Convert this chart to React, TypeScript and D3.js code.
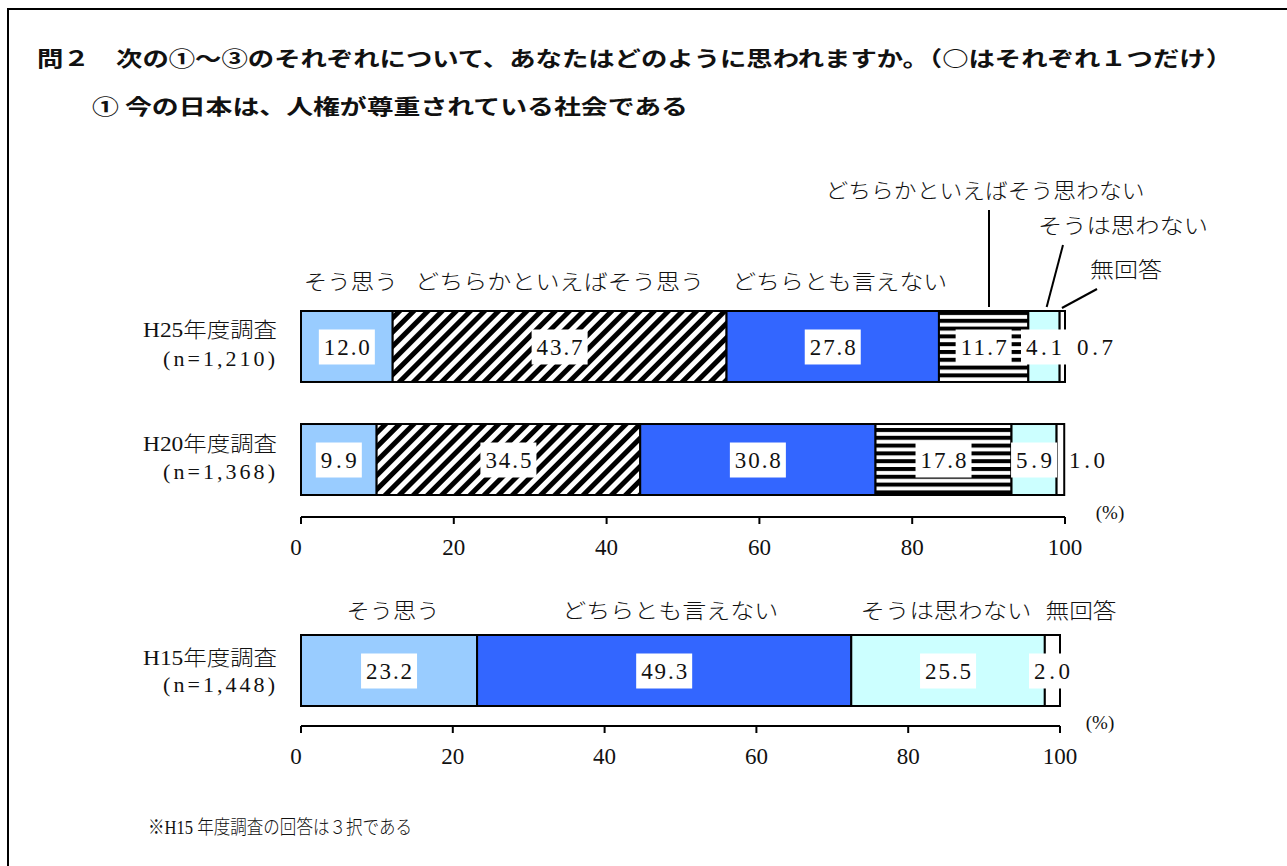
import React from "react";
import * as d3 from "d3";

const categoriesTop = ["そう思う", "どちらかといえばそう思う", "どちらとも言えない", "どちらかといえばそう思わない", "そうは思わない", "無回答"];
const surveysTop = ["H25年度調査", "H20年度調査"];
const samplesTop = ["(n=1,210)", "(n=1,368)"];
const valuesH25 = [12.0, 43.7, 27.8, 11.7, 4.1, 0.7];
const valuesH20 = [9.9, 34.5, 30.8, 17.8, 5.9, 1.0];

const categoriesBottom = ["そう思う", "どちらとも言えない", "そうは思わない", "無回答"];
const surveysBottom = ["H15年度調査"];
const samplesBottom = ["(n=1,448)"];
const valuesH15 = [23.2, 49.3, 25.5, 2.0];

const tickValues = [0, 20, 40, 60, 80, 100];

const titleText = "問２　次の①～③のそれぞれについて、あなたはどのように思われますか。（○はそれぞれ１つだけ）";
const subtitleText = "① 今の日本は、人権が尊重されている社会である";
const footnoteText = "※H15 年度調査の回答は３択である";

const SERIF = "'Liberation Serif', 'DejaVu Serif', 'Noto Sans CJK JP', serif";
const GOTHIC = "'Noto Sans CJK JP', sans-serif";

const fillsTop = ["#99CCFF", "url(#diag)", "#3366FF", "url(#hstripe)", "#CCFFFF", "#FFFFFF"];
const fillsBottom = ["#99CCFF", "#3366FF", "#CCFFFF", "#FFFFFF"];

function T(props: any) {
  const { x, y, children, len, anchor = "middle", size = 21, family = SERIF, weight = 300, adjust = "spacingAndGlyphs" } = props;
  return (
    <text
      x={x}
      y={y}
      textAnchor={anchor}
      dominantBaseline="central"
      fontSize={size}
      fontFamily={family}
      fontWeight={weight}
      fill="#111"
      textLength={len}
      lengthAdjust={len ? adjust : undefined}
    >
      {children}
    </text>
  );
}

function stack(values: number[]) {
  let acc = 0;
  return values.map((v) => {
    const s = { x0: acc, x1: acc + v, v };
    acc += v;
    return s;
  });
}

export default function App() {
  const xTop = d3.scaleLinear().domain([0, 100]).range([301, 1065]);
  const xBot = d3.scaleLinear().domain([0, 100]).range([301, 1060]);
  const yTop = d3.scaleBand<string>().domain(surveysTop).range([311, 495]).paddingInner(0.372);
  const yBot = d3.scaleBand<string>().domain(surveysBottom).range([635, 706]);

  const topRows = [valuesH25, valuesH20];
  const stH25 = stack(valuesH25);
  const stH15 = stack(valuesH15);

  const valueLabel = (cx: number, cy: number, v: number, boxed: boolean, key: string) => {
    const txt = v.toFixed(1);
    const w = txt.length === 4 ? 46 : 36;
    return (
      <g key={key}>
        {boxed && <rect x={cx - w / 2 - 5} y={cy - 17} width={w + 10} height={35} fill="#fff" />}
        <T x={cx} y={cy + 1} len={w} size={23} adjust="spacing" weight="normal">{txt}</T>
      </g>
    );
  };

  const axis = (x: any, yAxis: number, pctX: number, pctY: number) => (
    <g>
      <line x1={x(0)} x2={x(100)} y1={yAxis} y2={yAxis} stroke="#000" strokeWidth={2} />
      {tickValues.map((t) => (
        <g key={t}>
          <line x1={x(t)} x2={x(t)} y1={yAxis} y2={yAxis + 7} stroke="#000" strokeWidth={2} />
          <T x={x(t) - 5 * (t === 0 ? 1 : 0)} y={yAxis + 30} size={23} weight="normal">{String(t)}</T>
        </g>
      ))}
      <T x={pctX} y={pctY} size={19} weight="normal">(%)</T>
    </g>
  );

  return (
    <svg width={1287} height={866} style={{ position: "absolute", left: 0, top: 0, background: "#fff" }}>
      <defs>
        <pattern id="diag" patternUnits="userSpaceOnUse" width={10} height={10} patternTransform="rotate(45)">
          <rect width={10} height={10} fill="#fff" />
          <rect width={5} height={10} fill="#000" />
        </pattern>
        <pattern id="hstripe" patternUnits="userSpaceOnUse" width={8} height={7.8} y={311}>
          <rect width={8} height={7.8} fill="#fff" />
          <rect width={8} height={4} fill="#000" />
        </pattern>
      </defs>
      <rect x={0} y={0} width={1287} height={866} fill="#fff" />
      <rect x={8} y={9} width={1300} height={880} fill="none" stroke="#000" strokeWidth={2} />

      <T x={37} y={57} anchor="start" family={GOTHIC} weight="bold" size={21} len={1195}>{titleText}</T>
      <T x={92} y={105} anchor="start" family={GOTHIC} weight="bold" size={21} len={596}>{subtitleText}</T>

      {/* top chart category labels */}
      <T x={xTop((stH25[0].x0 + stH25[0].x1) / 2) + 4} y={282} len={94}>{categoriesTop[0]}</T>
      <T x={xTop((stH25[1].x0 + stH25[1].x1) / 2)} y={282} len={289}>{categoriesTop[1]}</T>
      <T x={xTop((stH25[2].x0 + stH25[2].x1) / 2) + 7} y={282} len={215}>{categoriesTop[2]}</T>
      <T x={985} y={191} len={319}>{categoriesTop[3]}</T>
      <T x={1123} y={226} len={170}>{categoriesTop[4]}</T>
      <T x={1126} y={270} len={72}>{categoriesTop[5]}</T>
      <line x1={xTop(90.05)} x2={xTop(90.05)} y1={307} y2={210} stroke="#000" strokeWidth={2} />
      <line x1={xTop(97.6)} x2={1063} y1={307} y2={245} stroke="#000" strokeWidth={2} />
      <line x1={xTop(99.6)} x2={1097} y1={308} y2={289} stroke="#000" strokeWidth={2} />

      {/* top bars */}
      {topRows.map((vals, ri) => {
        const st = stack(vals);
        const y0 = yTop(surveysTop[ri]) as number;
        const bh = yTop.bandwidth();
        const cy = y0 + bh / 2;
        return (
          <g key={ri}>
            <T x={277} y={cy - 16} anchor="end" len={134}>{surveysTop[ri]}</T>
            <T x={275} y={cy + 12} anchor="end" len={112} size={22} adjust="spacing" weight="normal">{samplesTop[ri]}</T>
            {st.map((s, i) => (
              <rect key={i} x={xTop(s.x0)} y={y0} width={xTop(s.x1) - xTop(s.x0)} height={bh} fill={fillsTop[i]} stroke="#000" strokeWidth={2} />
            ))}
            {st.map((s, i) => {
              const last = i === st.length - 1;
              const cx = last ? xTop(100) + 22 + (ri === 0 ? 8 : 0) : xTop((s.x0 + s.x1) / 2);
              return valueLabel(cx, cy, s.v, !last, `v${i}`);
            })}
          </g>
        );
      })}
      {axis(xTop, 517, 1110, 512)}

      {/* bottom chart */}
      {categoriesBottom.map((c, i) => {
        const s = stH15[i];
        const lens = [93, 216, 171, 71];
        const cx = i === 3 ? 1081 : xBot((s.x0 + s.x1) / 2) + [4, 6, -2, 0][i];
        return <T key={c} x={cx} y={611} len={lens[i]}>{c}</T>;
      })}
      {surveysBottom.map((sv, ri) => {
        const y0 = yBot(sv) as number;
        const bh = yBot.bandwidth();
        const cy = y0 + bh / 2;
        return (
          <g key={sv}>
            <T x={277} y={cy - 13} anchor="end" len={134}>{sv}</T>
            <T x={275} y={cy + 14} anchor="end" len={112} size={22} adjust="spacing" weight="normal">{samplesBottom[ri]}</T>
            {stH15.map((s, i) => (
              <rect key={i} x={xBot(s.x0)} y={y0} width={xBot(s.x1) - xBot(s.x0)} height={bh} fill={fillsBottom[i]} stroke="#000" strokeWidth={2} />
            ))}
            {stH15.map((s, i) => {
              const last = i === stH15.length - 1;
              const cx = last ? xBot(100) - 8 : xBot((s.x0 + s.x1) / 2);
              return valueLabel(cx, cy, s.v, true, `b${i}`);
            })}
          </g>
        );
      })}
      {axis(xBot, 726, 1100, 722)}

      <T x={148} y={827} anchor="start" size={19} len={264}>{footnoteText}</T>
    </svg>
  );
}
